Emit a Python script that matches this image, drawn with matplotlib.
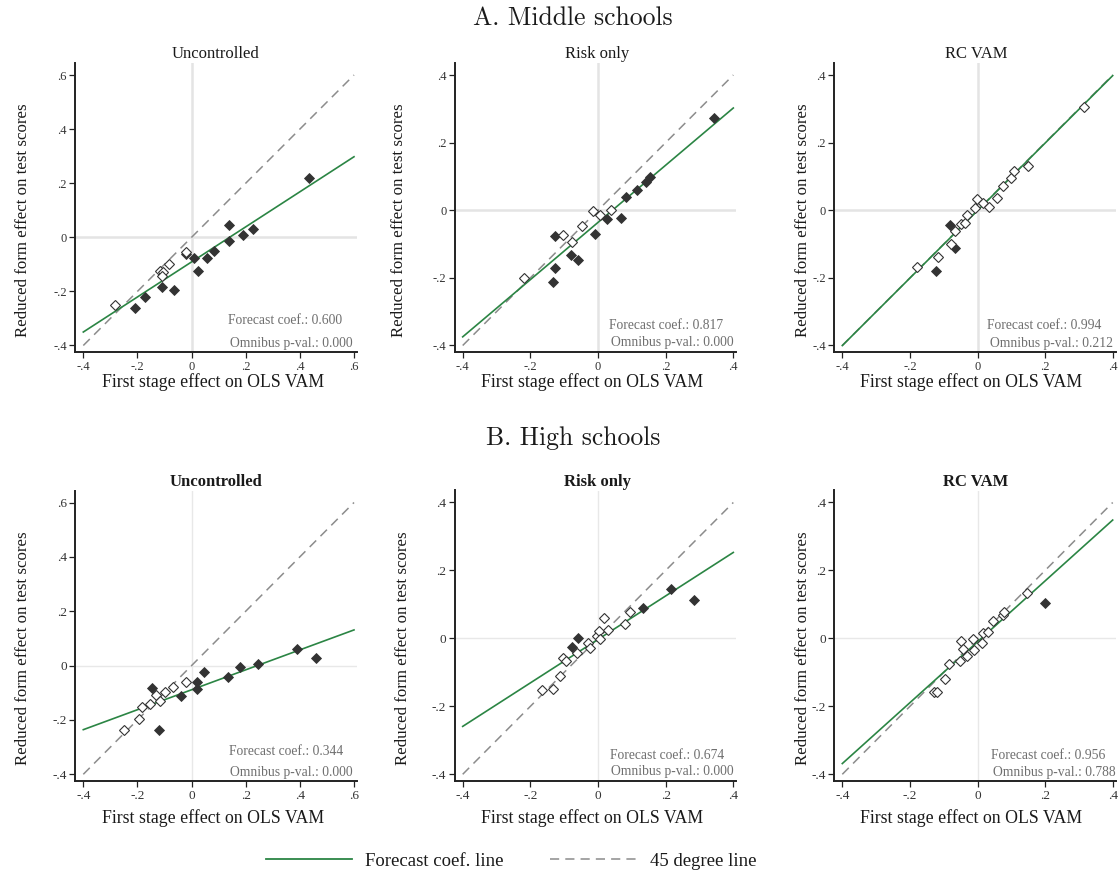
import matplotlib
matplotlib.use("Agg")
import matplotlib.pyplot as plt
import numpy as np

# ---------------- data ----------------
row_titles = ["A. Middle schools", "B. High schools"]
panel_titles = ["Uncontrolled", "Risk only", "RC VAM"]
xlabel = "First stage effect on OLS VAM"
ylabel = "Reduced form effect on test scores"

ticks_wide = [-0.4, -0.2, 0.0, 0.2, 0.4, 0.6]
ticklabels_wide = ["-.4", "-.2", "0", ".2", ".4", ".6"]
ticks_narrow = [-0.4, -0.2, 0.0, 0.2, 0.4]
ticklabels_narrow = ["-.4", "-.2", "0", ".2", ".4"]

# Middle schools - Uncontrolled
a1_fill_x = [-0.208, -0.171, -0.108, -0.066, -0.022, 0.010, 0.022, 0.057, 0.083, 0.137, 0.139, 0.191, 0.226, 0.434]
a1_fill_y = [-0.263, -0.221, -0.183, -0.196, -0.063, -0.076, -0.123, -0.075, -0.049, 0.047, -0.012, 0.010, 0.030, 0.221]
a1_hol_x = [-0.283, -0.117, -0.104, -0.111, -0.083, -0.021]
a1_hol_y = [-0.252, -0.123, -0.128, -0.143, -0.097, -0.053]
a1_slope, a1_icpt = 0.648, -0.091
a1_coef, a1_pval = "0.600", "0.000"

# Middle schools - Risk only
a2_fill_x = [-0.126, -0.134, -0.126, -0.080, -0.060, -0.008, 0.026, 0.069, 0.084, 0.114, 0.142, 0.153, 0.342]
a2_fill_y = [-0.077, -0.213, -0.170, -0.131, -0.146, -0.071, -0.027, -0.023, 0.038, 0.061, 0.083, 0.099, 0.272]
a2_hol_x = [-0.218, -0.104, -0.076, -0.046, -0.016, 0.007, 0.038]
a2_hol_y = [-0.201, -0.074, -0.093, -0.046, -0.001, -0.013, 0.002]
a2_slope, a2_icpt = 0.846, -0.036
a2_coef, a2_pval = "0.817", "0.000"

# Middle schools - RC VAM
a3_fill_x = [-0.123, -0.082, -0.067]
a3_fill_y = [-0.180, -0.043, -0.113]
a3_hol_x = [-0.179, -0.116, -0.078, -0.066, -0.048, -0.036, -0.030, -0.008, -0.002, 0.015, 0.035, 0.058, 0.075, 0.100, 0.107, 0.148, 0.314]
a3_hol_y = [-0.168, -0.138, -0.100, -0.060, -0.040, -0.039, -0.015, 0.007, 0.032, 0.020, 0.010, 0.035, 0.071, 0.094, 0.115, 0.130, 0.304]
a3_slope, a3_icpt = 0.998, -0.001
a3_coef, a3_pval = "0.994", "0.212"

# High schools - Uncontrolled
b1_fill_x = [-0.147, -0.120, -0.038, 0.019, 0.020, 0.046, 0.135, 0.179, 0.246, 0.390, 0.458]
b1_fill_y = [-0.083, -0.236, -0.113, -0.088, -0.061, -0.025, -0.043, -0.007, 0.004, 0.061, 0.028]
b1_hol_x = [-0.249, -0.194, -0.184, -0.154, -0.132, -0.117, -0.098, -0.068, -0.022]
b1_hol_y = [-0.236, -0.196, -0.152, -0.142, -0.109, -0.129, -0.098, -0.077, -0.061]
b1_slope, b1_icpt = 0.367, -0.089
b1_coef, b1_pval = "0.344", "0.000"

# High schools - Risk only
b2_fill_x = [-0.078, -0.060, 0.133, 0.216, 0.283]
b2_fill_y = [-0.024, 0.001, 0.089, 0.145, 0.113]
b2_hol_x = [-0.166, -0.133, -0.111, -0.103, -0.096, -0.061, -0.029, -0.025, -0.004, 0.002, 0.006, 0.019, 0.031, 0.081, 0.094]
b2_hol_y = [-0.151, -0.149, -0.111, -0.059, -0.067, -0.042, -0.013, -0.027, 0.008, 0.023, -0.003, 0.061, 0.025, 0.042, 0.078]
b2_slope, b2_icpt = 0.640, -0.003
b2_coef, b2_pval = "0.674", "0.000"

# High schools - RC VAM
b3_fill_x = [0.201]
b3_fill_y = [0.104]
b3_hol_x = [-0.128, -0.120, -0.096, -0.083, -0.053, -0.049, -0.042, -0.032, -0.014, -0.010, 0.014, 0.017, 0.030, 0.047, 0.074, 0.079, 0.147]
b3_hol_y = [-0.158, -0.158, -0.120, -0.075, -0.067, -0.007, -0.032, -0.053, -0.001, -0.035, -0.013, 0.015, 0.019, 0.052, 0.069, 0.079, 0.135]
b3_slope, b3_icpt = 0.896, -0.010
b3_coef, b3_pval = "0.956", "0.788"

# ---------------- style ----------------
W, H = 1118, 872
fig = plt.figure(figsize=(W / 100, H / 100), dpi=100)
SERIF = ["Liberation Serif", "DejaVu Serif"]
GREEN = "#2b8544"
DASH = "#8c8c8c"
DARK = "#333333"
TXTGRAY = "#6f6f6f"


def fx(x):
    return x / W


def fy(y):
    return 1 - y / H


def panel(xpix, ypix, ticks, ticklabels, fill_x, fill_y, hol_x, hol_y,
          slope, icpt, coef, pval, title, tpos, bold, zero_lw, zero_c,
          ylab_x, xlab_y, coef_pos, pval_pos, tick_fs):
    x0, x1 = xpix
    yt, yb = ypix
    lo, hi = ticks[0], ticks[-1]
    sx = (x1 - x0) / (hi - lo)
    sy = (yb - yt) / (hi - lo)
    left, right, top, bottom = x0 - 8, x1 + 3, yt - 12, yb + 7
    ax = fig.add_axes([fx(left), fy(bottom), (right - left) / W, (bottom - top) / H])
    ax.set_xlim(lo - 8 / sx, hi + 3 / sx)
    ax.set_ylim(lo - 7 / sy, hi + 12 / sy)
    ax.axvline(0, color=zero_c, lw=zero_lw, zorder=0)
    ax.axhline(0, color=zero_c, lw=zero_lw, zorder=0)
    xs = np.array([lo, hi])
    ax.plot(xs, xs, color=DASH, lw=1.1, dashes=(6, 4), zorder=2)
    ax.plot(xs, slope * xs + icpt, color=GREEN, lw=1.2, zorder=3)
    ax.plot(fill_x, fill_y, linestyle="none", marker="D", ms=4.6,
            mfc=DARK, mec=DARK, mew=0.6, zorder=4)
    ax.plot(hol_x, hol_y, linestyle="none", marker="D", ms=4.6,
            mfc="white", mec=DARK, mew=0.8, zorder=4)
    for s in ["top", "right"]:
        ax.spines[s].set_visible(False)
    for s in ["left", "bottom"]:
        ax.spines[s].set_linewidth(1.4)
        ax.spines[s].set_color("#222222")
    ax.set_xticks(ticks)
    ax.set_xticklabels(ticklabels)
    ax.set_yticks(ticks)
    ax.set_yticklabels(ticklabels)
    ax.tick_params(direction="out", length=4, width=0.9, color="#222222",
                   labelsize=tick_fs, labelcolor="#333333", pad=2)
    for lab in ax.get_xticklabels() + ax.get_yticklabels():
        lab.set_family(SERIF)
    fig.text(fx(tpos[0]), fy(tpos[1]), title, ha="center", va="center",
             fontsize=12, family=SERIF, color="#1a1a1a",
             fontweight="bold" if bold else "normal")
    fig.text(fx(ylab_x), fy((top + bottom) / 2 + 12), ylabel, rotation=90,
             ha="center", va="center", fontsize=12.2, family=SERIF, color="#1a1a1a")
    fig.text(fx((x0 + x1) / 2 - 6), fy(xlab_y), xlabel, ha="center", va="center",
             fontsize=12.8, family=SERIF, color="#1a1a1a")
    fig.text(fx(coef_pos[0]), fy(coef_pos[1]), "Forecast coef.: " + coef,
             ha="right", va="center", fontsize=9.8, family=SERIF, color=TXTGRAY)
    fig.text(fx(pval_pos[0]), fy(pval_pos[1]), "Omnibus p-val.: " + pval,
             ha="right", va="center", fontsize=9.8, family=SERIF, color=TXTGRAY)
    return ax


# Row titles
fig.text(fx(573), fy(18), row_titles[0], ha="center", va="center",
         fontsize=18.5, family=["cmr10", "DejaVu Serif"], color="#1a1a1a")
fig.text(fx(573), fy(438), row_titles[1], ha="center", va="center",
         fontsize=18.5, family=["cmr10", "DejaVu Serif"], color="#1a1a1a")

colx = [(83.3, 354.0), (462.7, 733.3), (842.3, 1112.7)]
rowA = (75.0, 345.5)
rowB = (502.5, 774.3)

panel(colx[0], rowA, ticks_wide, ticklabels_wide, a1_fill_x, a1_fill_y, a1_hol_x, a1_hol_y,
      a1_slope, a1_icpt, a1_coef, a1_pval, panel_titles[0], (216, 54), False, 1.8, "#e4e4e4",
      23, 382, (342, 321), (353, 343), 9)
panel(colx[1], rowA, ticks_narrow, ticklabels_narrow, a2_fill_x, a2_fill_y, a2_hol_x, a2_hol_y,
      a2_slope, a2_icpt, a2_coef, a2_pval, panel_titles[1], (597, 54), False, 1.8, "#e4e4e4",
      399, 382, (722.7, 325.7), (734, 342.7), 9)
panel(colx[2], rowA, ticks_narrow, ticklabels_narrow, a3_fill_x, a3_fill_y, a3_hol_x, a3_hol_y,
      a3_slope, a3_icpt, a3_coef, a3_pval, panel_titles[2], (976, 54), False, 1.8, "#e4e4e4",
      803, 382, (1101.7, 325.7), (1112.7, 343), 9)

panel(colx[0], rowB, ticks_wide, ticklabels_wide, b1_fill_x, b1_fill_y, b1_hol_x, b1_hol_y,
      b1_slope, b1_icpt, b1_coef, b1_pval, panel_titles[0], (216, 482), True, 1.0, "#e8e8e8",
      23, 818, (343.3, 751), (352.7, 772), 9.5)
panel(colx[1], rowB, ticks_narrow, ticklabels_narrow, b2_fill_x, b2_fill_y, b2_hol_x, b2_hol_y,
      b2_slope, b2_icpt, b2_coef, b2_pval, panel_titles[1], (597, 482), True, 1.0, "#e8e8e8",
      403, 818, (724.3, 755), (734, 771.7), 9.5)
panel(colx[2], rowB, ticks_narrow, ticklabels_narrow, b3_fill_x, b3_fill_y, b3_hol_x, b3_hol_y,
      b3_slope, b3_icpt, b3_coef, b3_pval, panel_titles[2], (976, 482), True, 1.0, "#e8e8e8",
      803, 818, (1105.3, 755), (1116, 772), 9.5)

# Legend
fig.add_artist(plt.Line2D([fx(266), fx(352)], [fy(859), fy(859)], color=GREEN, lw=1.3))
fig.text(fx(365), fy(861), "Forecast coef. line", ha="left", va="center",
         fontsize=13.5, family=SERIF, color="#1a1a1a")
fig.add_artist(plt.Line2D([fx(550), fx(637)], [fy(859), fy(859)], color=DASH, lw=1.1,
                          dashes=(6, 4)))
fig.text(fx(650), fy(861), "45 degree line", ha="left", va="center",
         fontsize=13.5, family=SERIF, color="#1a1a1a")

fig.savefig("out.png", dpi=100, facecolor="white")
